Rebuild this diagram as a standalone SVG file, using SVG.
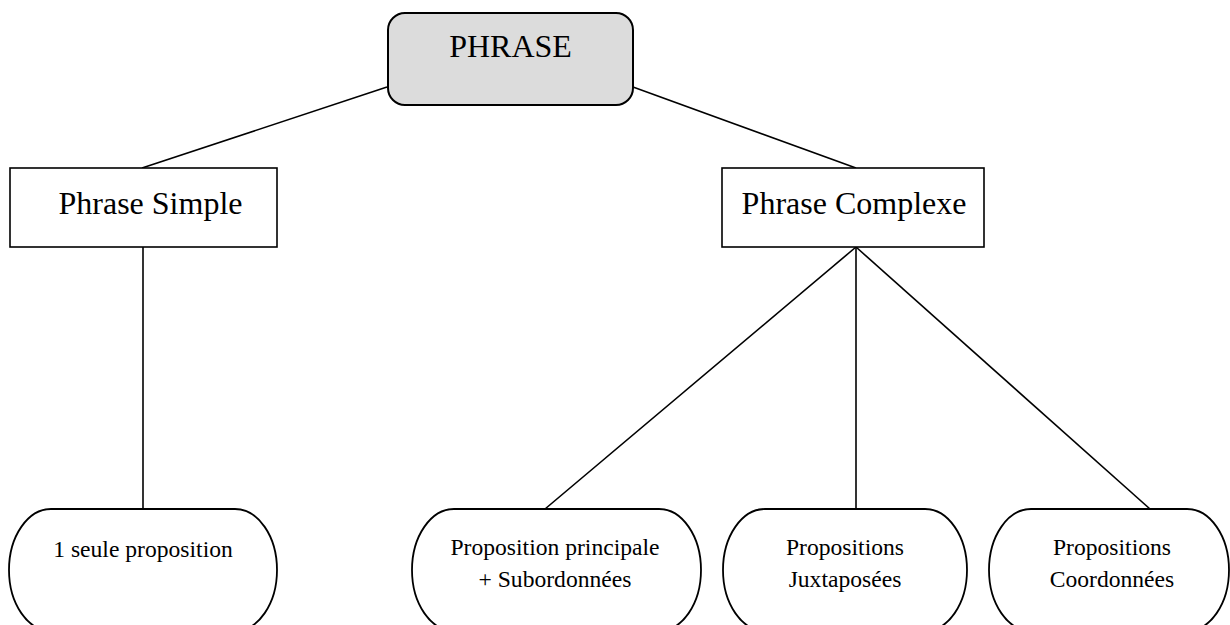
<svg xmlns="http://www.w3.org/2000/svg" width="1230" height="625" viewBox="0 0 1230 625">
<style>
.box{fill:#ffffff;stroke:#000;stroke-width:1.6}
.top{fill:#dcdcdc;stroke:#000;stroke-width:2}
.oval{fill:#ffffff;stroke:#000;stroke-width:1.8}
.ln{stroke:#000;stroke-width:1.6;fill:none}
.big{font-family:"Liberation Serif","Times New Roman",serif;font-size:32px;fill:#000}
.sm{font-family:"Liberation Serif","Times New Roman",serif;font-size:23.6px;fill:#000;text-anchor:middle}
</style>
<rect width="1230" height="625" fill="#ffffff"/>
<g id="connectors">
<line class="ln" x1="387" y1="87" x2="142" y2="168"/>
<line class="ln" x1="633" y1="87" x2="856" y2="168"/>
<line class="ln" x1="143" y1="247" x2="143" y2="509"/>
<line class="ln" x1="856" y1="247" x2="545" y2="509"/>
<line class="ln" x1="856" y1="247" x2="856" y2="509"/>
<line class="ln" x1="856" y1="247" x2="1150" y2="509"/>
</g>
<g id="phrase">
<rect class="top" x="388" y="13" width="245" height="92" rx="17" ry="17"/>
<text class="big" x="510.5" y="57" text-anchor="middle">PHRASE</text>
</g>
<g id="phrase-simple">
<rect class="box" x="10" y="168" width="267" height="79"/>
<text class="big" x="150.5" y="214" text-anchor="middle">Phrase Simple</text>
</g>
<g id="phrase-complexe">
<rect class="box" x="722" y="168" width="262" height="79"/>
<text class="big" x="854" y="214" text-anchor="middle">Phrase Complexe</text>
</g>
<g id="seule">
<rect class="oval" x="9" y="509" width="268" height="122" rx="42" ry="61"/>
<text class="sm" x="143" y="557">1 seule proposition</text>
</g>
<g id="principale">
<rect class="oval" x="412" y="509" width="289" height="122" rx="42" ry="61"/>
<text class="sm" x="555" y="555">Proposition principale</text>
<text class="sm" x="555" y="587">+ Subordonnées</text>
</g>
<g id="juxtaposees">
<rect class="oval" x="723" y="509" width="244" height="122" rx="42" ry="61"/>
<text class="sm" x="845" y="555">Propositions</text>
<text class="sm" x="845" y="587">Juxtaposées</text>
</g>
<g id="coordonnees">
<rect class="oval" x="989" y="509" width="240" height="122" rx="42" ry="61"/>
<text class="sm" x="1112" y="555">Propositions</text>
<text class="sm" x="1112" y="587">Coordonnées</text>
</g>
</svg>
